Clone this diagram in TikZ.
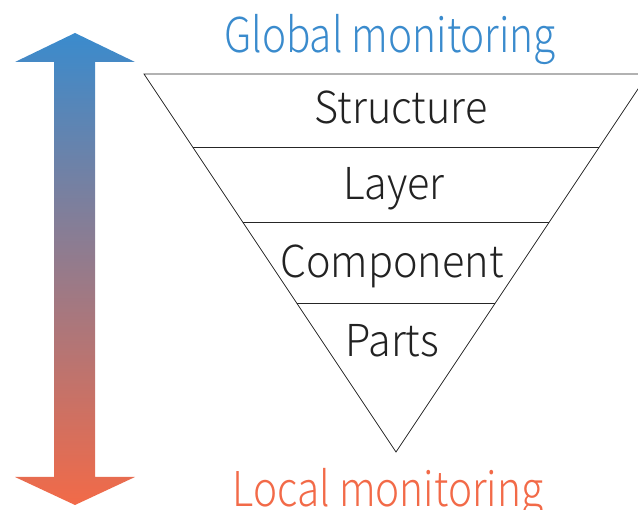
\documentclass[tikz,border=0pt]{standalone}
\usepackage{fontspec}
\usetikzlibrary{calc}
\setmainfont{Noto Sans CJK JP Light}[FakeStretch=0.94]
\newfontfamily\captionfont{Noto Sans CJK JP Light}[FakeStretch=0.845]
\definecolor{globalblue}{HTML}{3A8BCD}
\definecolor{localorange}{HTML}{F26A48}
\definecolor{inktext}{HTML}{222222}
\begin{document}
\begin{tikzpicture}[x=1pt,y=-1pt,
  level/.style={anchor=base,inner sep=0pt,font=\fontsize{44}{46}\selectfont,text=inktext},
  caption/.style={anchor=base,inner sep=0pt,font=\captionfont\fontsize{48}{50}\selectfont},
  edge/.style={draw=black!85,line width=0.8pt}]
\useasboundingbox (0,0) rectangle (638,510);
\clip (0,0) rectangle (638,510);

% two-headed scale arrow, blue at the top fading to orange at the bottom
\shade[top color=globalblue,bottom color=localorange]
  (75,33) -- (135,62) -- (95,62) -- (95,477) -- (135,477) -- (75,505)
  -- (15,477) -- (54,477) -- (54,62) -- (15,62) -- cycle;

% inverted triangle and its dividing lines
\coordinate (tl) at (144,74);
\coordinate (tr) at (648,74);
\coordinate (apex) at (396,452);
\draw[edge] (tl) -- (tr) -- (apex) -- cycle;
\foreach \y/\n in {147/a,222/b,303/c}{
  \coordinate (l\n) at ($(tl)!{(\y-74)/378}!(apex)$);
  \coordinate (r\n) at ($(tr)!{(\y-74)/378}!(apex)$);
  \draw[edge] (l\n) -- (r\n);
}

\node[level] (structure) at (401,124) {Structure};
\node[level] (layer) at (394,200) {Layer};
\node[level] (component) at (392,278) {Component};
\node[level] (parts) at (392,357) {Parts};

\node[caption,text=globalblue] (global) at (390,53) {Global monitoring};
\node[caption,text=localorange] (local) at (388,507) {Local monitoring};
\end{tikzpicture}
\end{document}
